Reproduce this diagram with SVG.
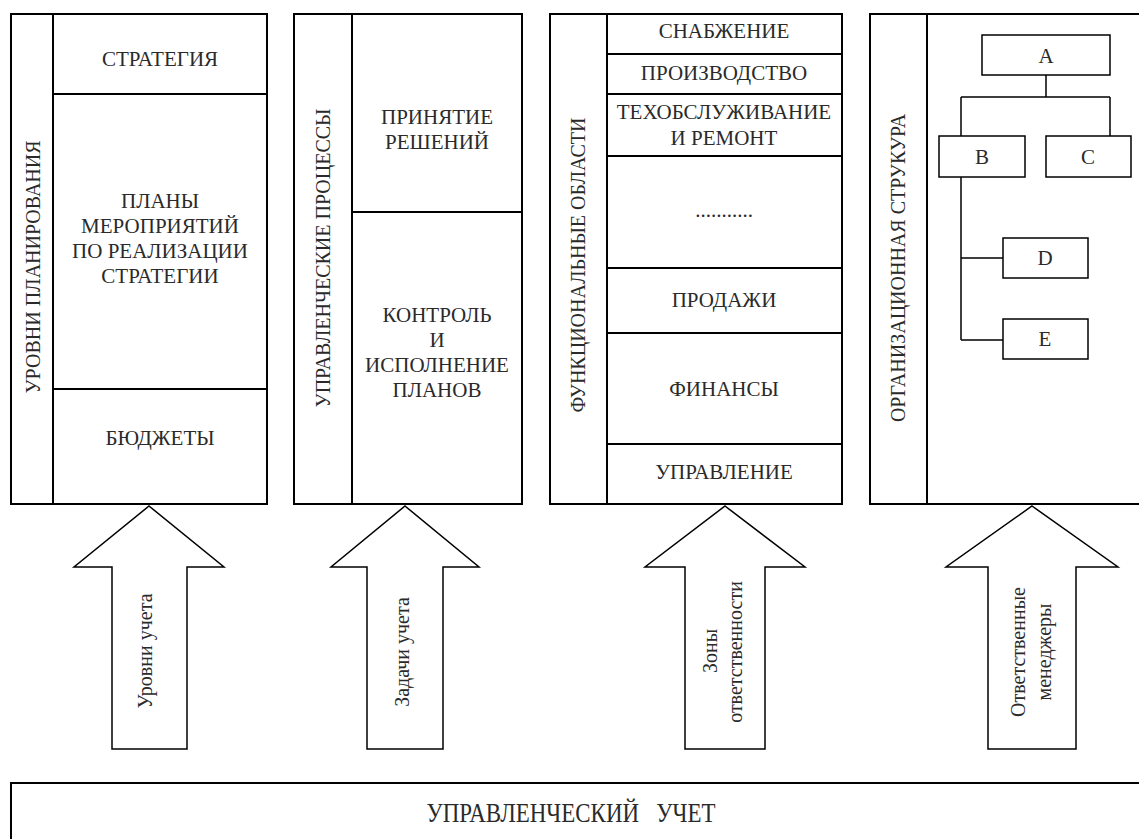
<svg xmlns="http://www.w3.org/2000/svg" width="1139" height="839" viewBox="0 0 1139 839" font-family="'Liberation Serif', 'DejaVu Serif', serif">
<style>
.frame{fill:none;stroke:#000;stroke-width:2}
.div{stroke:#000;stroke-width:2}
.box{fill:#fff;stroke:#000;stroke-width:1.5}
.arrow{fill:#fff;stroke:#000;stroke-width:1.5;stroke-linejoin:miter}
.conn{fill:none;stroke:#000;stroke-width:1.5}
text{font-family:"Liberation Serif","Times New Roman",serif;font-size:21px;fill:#2a2a2a;text-anchor:middle}
.vl{font-size:20px}
.al{font-size:20px}
.title{font-size:28px}
</style>
<rect width="1139" height="839" fill="#fff"/>

<g id="panel-planning">
<rect class="frame" x="11" y="14" width="256" height="490"/>
<line class="div" x1="53" y1="14" x2="53" y2="504"/>
<line class="div" x1="53" y1="94" x2="267" y2="94"/>
<line class="div" x1="53" y1="389" x2="267" y2="389"/>
<text class="vl" transform="translate(40,267) rotate(-90)">УРОВНИ ПЛАНИРОВАНИЯ</text>
<text x="160" y="66">СТРАТЕГИЯ</text>
<text x="160" y="208">ПЛАНЫ</text>
<text x="160" y="233">МЕРОПРИЯТИЙ</text>
<text x="160" y="258">ПО РЕАЛИЗАЦИИ</text>
<text x="160" y="283">СТРАТЕГИИ</text>
<text x="160" y="445">БЮДЖЕТЫ</text>
</g>

<g id="panel-processes">
<rect class="frame" x="294" y="14" width="228" height="490"/>
<line class="div" x1="352" y1="14" x2="352" y2="504"/>
<line class="div" x1="352" y1="212" x2="522" y2="212"/>
<text class="vl" transform="translate(330,258) rotate(-90)">УПРАВЛЕНЧЕСКИЕ ПРОЦЕССЫ</text>
<text x="437" y="124">ПРИНЯТИЕ</text>
<text x="437" y="149">РЕШЕНИЙ</text>
<text x="437" y="322">КОНТРОЛЬ</text>
<text x="437" y="347">И</text>
<text x="437" y="372">ИСПОЛНЕНИЕ</text>
<text x="437" y="397">ПЛАНОВ</text>
</g>

<g id="panel-functions">
<rect class="frame" x="550" y="14" width="292" height="490"/>
<line class="div" x1="607" y1="14" x2="607" y2="504"/>
<line class="div" x1="607" y1="54" x2="842" y2="54"/>
<line class="div" x1="607" y1="94" x2="842" y2="94"/>
<line class="div" x1="607" y1="156" x2="842" y2="156"/>
<line class="div" x1="607" y1="268" x2="842" y2="268"/>
<line class="div" x1="607" y1="333" x2="842" y2="333"/>
<line class="div" x1="607" y1="444" x2="842" y2="444"/>
<text class="vl" transform="translate(585,265) rotate(-90)">ФУНКЦИОНАЛЬНЫЕ ОБЛАСТИ</text>
<text x="724" y="38">СНАБЖЕНИЕ</text>
<text x="724" y="80">ПРОИЗВОДСТВО</text>
<text x="724" y="119">ТЕХОБСЛУЖИВАНИЕ</text>
<text x="724" y="145">И РЕМОНТ</text>
<text x="724" y="217">...........</text>
<text x="724" y="307">ПРОДАЖИ</text>
<text x="724" y="396">ФИНАНСЫ</text>
<text x="724" y="479">УПРАВЛЕНИЕ</text>
</g>

<g id="panel-structure">
<rect class="frame" x="870" y="14" width="280" height="490"/>
<line class="div" x1="927" y1="14" x2="927" y2="504"/>
<text class="vl" transform="translate(905,268) rotate(-90)">ОРГАНИЗАЦИОННАЯ СТРУКУРА</text>
</g>

<g id="connectors">
<path class="conn" d="M1046,75 V97 M961,97 H1110 M961,97 V136 M1110,97 V136"/>
<path class="conn" d="M961,177 V340 M961,258 H1003 M961,340 H1003"/>
</g>

<g id="node-A"><rect class="box" x="982" y="35" width="128" height="40"/><text x="1046" y="63">A</text></g>
<g id="node-B"><rect class="box" x="939" y="136" width="86" height="41"/><text x="982" y="164">B</text></g>
<g id="node-C"><rect class="box" x="1046" y="136" width="85" height="41"/><text x="1088" y="164">C</text></g>
<g id="node-D"><rect class="box" x="1003" y="238" width="85" height="40"/><text x="1045" y="265">D</text></g>
<g id="node-E"><rect class="box" x="1003" y="319" width="85" height="40"/><text x="1045" y="346">E</text></g>

<g id="arrow-levels">
<polygon class="arrow" points="149,506 224,567 187,567 187,749 112,749 112,567 74,567"/>
<text class="al" transform="translate(152,651) rotate(-90)">Уровни учета</text>
</g>
<g id="arrow-tasks">
<polygon class="arrow" points="405,506 479,567 443,567 443,749 367,749 367,567 331,567"/>
<text class="al" transform="translate(409,652) rotate(-90)">Задачи учета</text>
</g>
<g id="arrow-zones">
<polygon class="arrow" points="725,506 805,567 765,567 765,749 685,749 685,567 645,567"/>
<text class="al" transform="translate(717,651) rotate(-90)">Зоны</text>
<text class="al" transform="translate(742,652) rotate(-90)">ответственности</text>
</g>
<g id="arrow-managers">
<polygon class="arrow" points="1032,506 1118,567 1076,567 1076,749 988,749 988,567 946,567"/>
<text class="al" transform="translate(1025,652) rotate(-90)">Ответственные</text>
<text class="al" transform="translate(1051,652) rotate(-90)">менеджеры</text>
</g>

<g id="management-accounting">
<rect class="frame" x="11" y="783" width="1140" height="70"/>
<text class="title" x="571" y="822" style="white-space:pre" xml:space="preserve" textLength="289" lengthAdjust="spacingAndGlyphs">УПРАВЛЕНЧЕСКИЙ   УЧЕТ</text>
</g>
</svg>
